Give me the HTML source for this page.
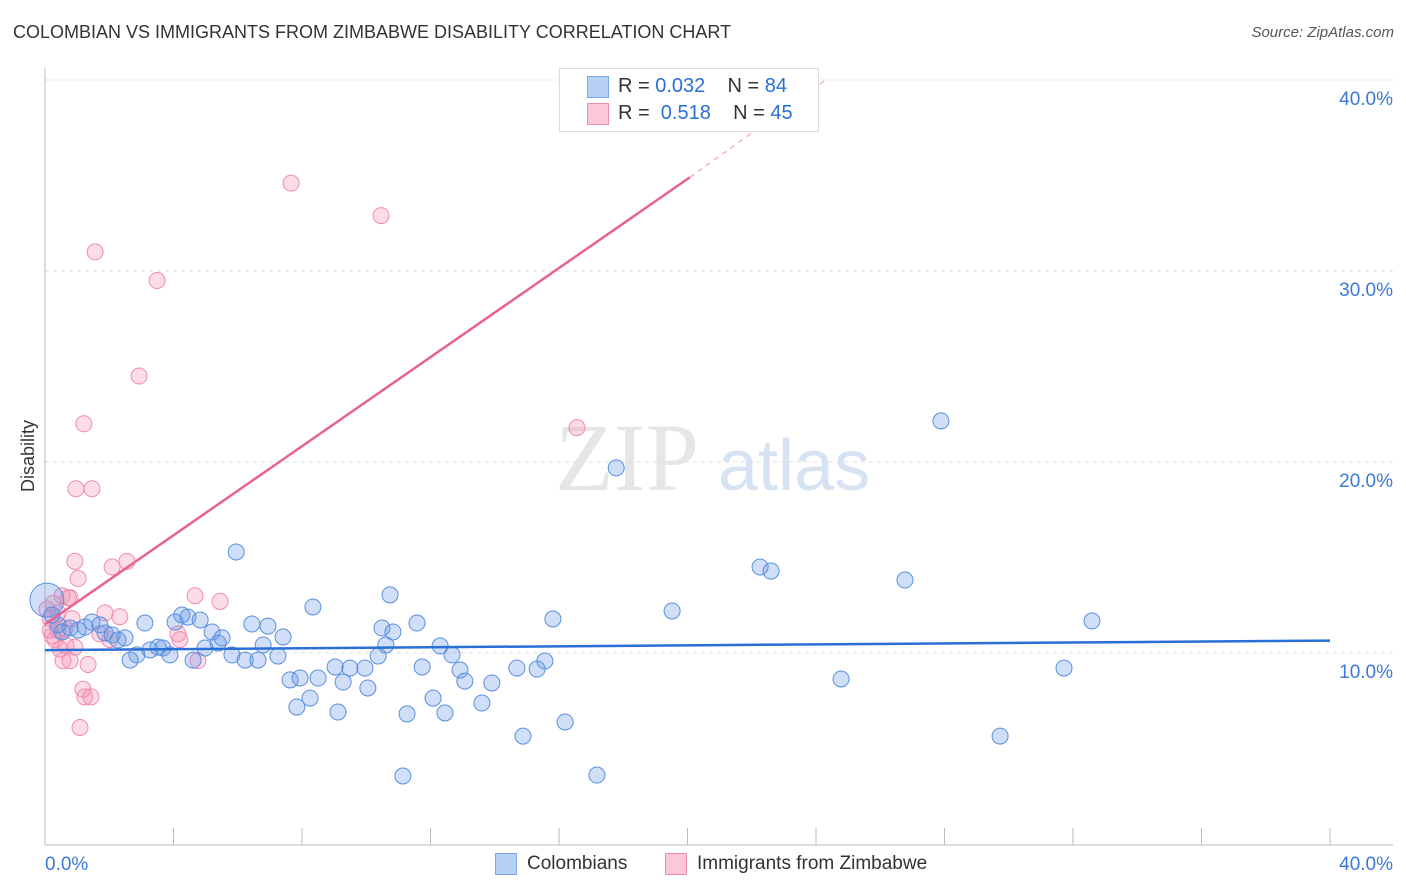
<!DOCTYPE html>
<html><head><meta charset="utf-8">
<style>
body{margin:0;background:#fff;font-family:"Liberation Sans",sans-serif;}
#wrap{position:relative;width:1406px;height:892px;overflow:hidden;}
.t{position:absolute;white-space:nowrap;}
</style></head>
<body>
<div id="wrap">
<div class="t" style="left:13px;top:22px;font-size:18px;color:#333;">COLOMBIAN VS IMMIGRANTS FROM ZIMBABWE DISABILITY CORRELATION CHART</div>
<div class="t" style="right:12px;top:24px;font-size:15px;color:#555;font-style:italic;">Source: ZipAtlas.com</div>
<svg id="chart" width="1406" height="892" style="position:absolute;left:0;top:0"></svg>
</div>
<script>
const xTickLabels=["0.0%","40.0%"];
const yTicks=[10,20,30,40];
const blueX=[0.06,0.22,0.40,0.53,0.78,1.03,1.25,1.46,1.71,1.87,2.09,2.27,2.49,2.65,2.86,3.11,3.27,3.52,3.67,3.89,4.05,4.26,4.45,4.61,4.83,4.98,5.20,5.39,5.51,5.82,5.95,6.23,6.44,6.63,6.79,6.94,7.25,7.41,7.63,7.84,7.94,8.25,8.34,8.50,9.03,9.12,9.28,9.49,9.96,10.05,10.37,10.49,10.61,10.74,10.83,11.14,11.27,11.58,11.74,12.08,12.30,12.45,12.67,12.92,13.07,13.60,13.91,14.69,14.88,15.32,15.56,15.81,16.19,17.18,17.78,19.52,22.26,22.60,24.78,26.77,27.89,29.73,31.72,32.59];
const blueY=[12.77,11.99,11.47,11.10,11.31,11.20,11.36,11.62,11.47,11.05,10.94,10.68,10.79,9.63,9.90,11.57,10.16,10.31,10.26,9.90,11.62,11.99,11.88,9.63,11.73,10.26,11.10,10.52,10.79,9.90,15.29,9.63,11.52,9.63,10.42,11.41,9.84,10.84,8.59,7.17,8.69,7.64,12.41,8.69,9.27,6.91,8.48,9.21,9.21,8.17,9.84,11.31,10.42,13.04,11.10,3.56,6.81,11.57,9.27,7.64,10.37,6.86,9.90,9.11,8.53,7.38,8.43,9.21,5.65,9.16,9.58,11.78,6.39,3.61,19.69,12.20,14.50,14.29,8.64,13.82,22.15,5.65,9.21,11.68];
const pinkX=[0.06,0.16,0.25,0.31,0.4,0.47,0.56,0.62,0.72,0.78,0.84,0.93,0.93,0.96,1.03,1.09,1.18,1.21,1.24,1.34,1.43,1.46,1.56,1.71,1.87,2.09,2.33,2.55,2.93,3.49,4.14,4.2,4.67,4.76,5.45,7.66,10.46,16.56,0.53,0.16,0.4,0.65,0.22,0.78,2.02];
const pinkY=[12.3,11.8,12.6,10.7,11.2,10.2,9.6,11.3,12.9,9.6,11.8,10.3,14.8,18.6,13.9,6.1,8.1,22.0,7.7,9.4,7.7,18.6,31.0,11.0,12.1,14.5,11.9,14.8,24.5,29.5,11.0,10.7,13.0,9.6,12.7,34.6,32.9,21.8,13.0,11.2,12.1,10.4,10.9,12.9,10.7];
const NS="http://www.w3.org/2000/svg";
const svg=document.getElementById('chart');
const X0=45,X1=1330,Y0=844,PY=19.1;
const xs=v=>X0+(X1-X0)*v/40;
const ys=v=>Y0-PY*v;
function mk(tag,a){const e=document.createElementNS(NS,tag);for(const k in a)e.setAttribute(k,a[k]);svg.appendChild(e);return e;}
let w=mk('text',{x:555,y:490,'font-size':96,fill:'#e6e6e6','font-family':'Liberation Serif'});w.textContent='ZIP';


let w2=mk('text',{x:718,y:490,'font-size':72,fill:'#d7e3f3','font-family':'Liberation Sans'});w2.textContent='atlas';


yTicks.forEach(t=>{
 const g=mk('line',{x1:X0,x2:1393,y1:ys(t),y2:ys(t),stroke:'#ddd','stroke-dasharray':'4,4'});
 
 
 const l=mk('text',{x:1393,y:ys(t)+25,'text-anchor':'end','font-size':19,fill:'#3b78d8'});l.textContent=t.toFixed(1)+'%';
 
 
});
let ax=mk('line',{x1:X0,x2:X0,y1:68,y2:845,stroke:'#bbb'});


let bx=mk('line',{x1:X0,x2:1393,y1:845,y2:845,stroke:'#bbb'});


for(let i=0;i<=10;i++){const xx=X0+(X1-X0)*i/10;const tk=mk('line',{x1:xx,x2:xx,y1:828,y2:845,stroke:'#bbb'});
 
 }
[[0,45,'start'],[1,1393,'end']].forEach(([i,x,a])=>{const l=mk('text',{x:x,y:870,'text-anchor':a,'font-size':19,fill:'#3b78d8'});l.textContent=xTickLabels[i];
 
 });
let yt=mk('text',{x:34,y:456,'font-size':18,fill:'#333',transform:'rotate(-90 34 456)','text-anchor':'middle'});yt.textContent='Disability';


pinkX.forEach((v,i)=>{const c=mk('circle',{cx:xs(v),cy:ys(pinkY[i]),r:8,fill:'rgba(244,143,177,0.3)',stroke:'#f08bb0','stroke-width':1});
 
 });
blueX.forEach((v,i)=>{const c=mk('circle',{cx:xs(v),cy:ys(blueY[i]),r:i==0?17:8,fill:'rgba(100,150,230,0.3)',stroke:'#5a8fe0','stroke-width':1});
 
 });
let bl=mk('line',{x1:xs(0),y1:ys(10.15),x2:xs(40),y2:ys(10.65),stroke:'#2a6fd6','stroke-width':2.5});


let pl=mk('line',{x1:xs(0),y1:ys(11.5),x2:xs(20.07),y2:ys(34.9),stroke:'#e8628f','stroke-width':2.5});


let pd=mk('line',{x1:xs(20.07),y1:ys(34.9),x2:xs(24.3),y2:ys(40),stroke:'#f0a0bb','stroke-width':1.2,'stroke-dasharray':'5,5'});


</script>
<div class="t" style="left:559px;top:68px;width:258px;height:62px;border:1px solid #ddd;background:#fff;font-size:20px;">
 <div class="t" style="left:27px;top:7px;width:20px;height:20px;background:#b7d0f5;border:1px solid #7aa4e6;"></div>
 <div class="t" style="left:58px;top:6px;color:#333;">R = <span style="color:#2a6fd6">0.032</span>&nbsp;&nbsp;&nbsp; N = <span style="color:#2a6fd6">84</span></div>
 <div class="t" style="left:27px;top:34px;width:20px;height:20px;background:#fbc8d8;border:1px solid #f08bb0;"></div>
 <div class="t" style="left:58px;top:33px;color:#333;">R =&nbsp; <span style="color:#2a6fd6">0.518</span>&nbsp;&nbsp;&nbsp; N = <span style="color:#2a6fd6">45</span></div>
</div>
<div class="t" style="left:495px;top:853px;width:20px;height:20px;background:#b7d0f5;border:1px solid #7aa4e6;"></div>
<div class="t" style="left:527px;top:853px;font-size:19px;color:#333;">Colombians</div>
<div class="t" style="left:665px;top:853px;width:20px;height:20px;background:#fbc8d8;border:1px solid #f08bb0;"></div>
<div class="t" style="left:697px;top:853px;font-size:19px;color:#333;">Immigrants from Zimbabwe</div>
</body></html>
